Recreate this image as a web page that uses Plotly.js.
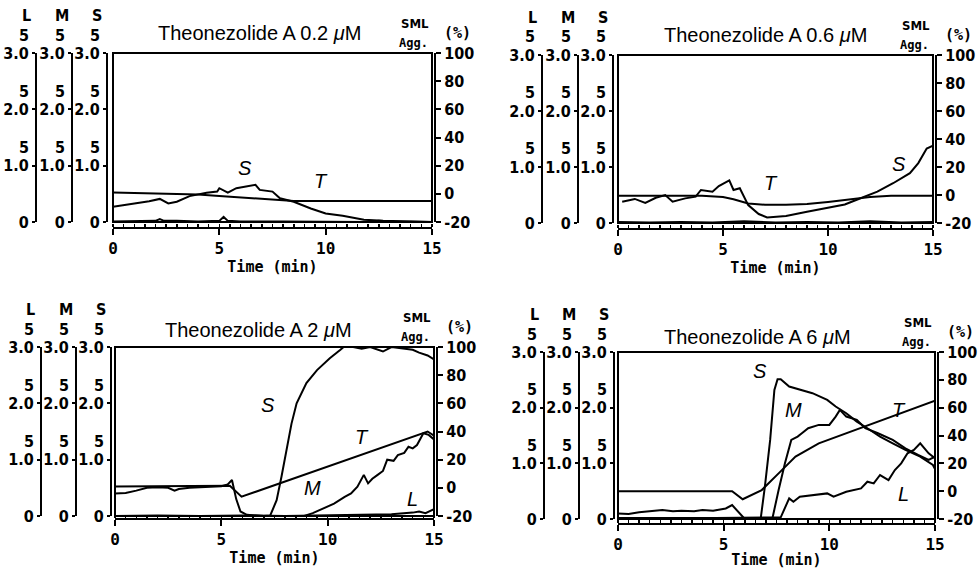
<!DOCTYPE html>
<html>
<head>
<meta charset="utf-8">
<script src="https://cdn.plot.ly/plotly-3.0.1.min.js"></script>
<style>html,body{margin:0;padding:0;background:#fff}#chart{width:980px;height:569px}</style>
</head>
<body>
<div id="chart"></div>
<script>
// ---------------- DATA ----------------
const panelTitles = ['Theonezolide A 0.2 <i>μ</i>M', 'Theonezolide A 0.6 <i>μ</i>M', 'Theonezolide A 2 <i>μ</i>M', 'Theonezolide A 6 <i>μ</i>M'];
const countTickVals = [0, 1, 2, 3];
const countTickText = ['0', '1.0', '2.0', '3.0'];
const aggTickVals = [-20, 0, 20, 40, 60, 80, 100];
const aggTickText = ['-20', '0', '20', '40', '60', '80', '100'];
const timeTickVals = [0, 5, 10, 15];

// Panel 1 : 0.2 uM
const p1_S_time = [0, 0.5, 1, 1.7, 2.2, 2.6, 3, 3.6, 4.4, 4.9, 5.0, 5.4, 5.8, 6.3, 6.7, 6.9, 7.5, 7.85, 8.5, 9.3, 10, 10.8, 11.8, 12.7, 13.5, 15];
const p1_S = [0.27, 0.30, 0.32, 0.37, 0.41, 0.33, 0.36, 0.46, 0.52, 0.54, 0.60, 0.52, 0.60, 0.63, 0.66, 0.57, 0.54, 0.42, 0.36, 0.24, 0.15, 0.11, 0.04, 0.02, 0.01, 0.0];
const p1_M_time = [0, 1, 2, 2.2, 2.4, 3, 4, 5, 5.2, 5.4, 6, 8, 10, 12, 12.5, 13, 15];
const p1_M = [0.01, 0.02, 0.02, 0.05, 0.02, 0.02, 0.01, 0.02, 0.09, 0.02, 0.01, 0.01, 0.0, 0.0, 0.02, 0.01, 0.0];
const p1_L_time = [0, 5, 10, 15];
const p1_L = [0, 0, 0, 0];
const p1_T_time = [0, 2, 4, 5, 6, 7, 7.8, 8.5, 15];
const p1_T = [1, 0.5, -0.5, -1.5, -2.5, -3.5, -4.8, -5, -5];

// Panel 2 : 0.6 uM
const p2_S_time = [0.2, 0.8, 1.3, 1.8, 2.25, 2.6, 3.2, 3.7, 3.95, 4.5, 4.8, 5.3, 5.5, 5.8, 6.2, 6.7, 7.1, 8.0, 9.0, 9.9, 10.8, 11.4, 12.35, 13.1, 13.9, 14.3, 14.7, 15];
const p2_S = [0.38, 0.43, 0.36, 0.45, 0.50, 0.38, 0.44, 0.47, 0.59, 0.56, 0.66, 0.76, 0.59, 0.62, 0.32, 0.16, 0.10, 0.125, 0.20, 0.26, 0.33, 0.42, 0.56, 0.71, 0.89, 1.07, 1.33, 1.38];
const p2_M_time = [0, 1.5, 3, 4.5, 6, 7.5, 9, 10.5, 12, 13.5, 15];
const p2_M = [0.02, 0.01, 0.02, 0.01, 0.03, 0.01, 0.02, 0.01, 0.03, 0.01, 0.02];
const p2_L_time = [0, 5, 10, 15];
const p2_L = [0, 0, 0, 0];
const p2_T_time = [0, 4, 5, 5.5, 6.2, 7, 8, 9, 10, 11, 12, 13, 15];
const p2_T = [-0.5, -0.5, -1.5, -3, -6, -7, -7, -6.5, -5, -3, -1.5, -0.5, -0.5];

// Panel 3 : 2 uM
const p3_S_time = [0, 0.5, 1, 1.5, 2, 2.5, 2.8, 3, 3.5, 4, 4.5, 5, 5.3, 5.5, 5.7, 5.9, 6.2, 7.0, 7.3, 7.6, 7.83, 8.07, 8.3, 8.54, 9.0, 9.5, 10.1, 10.6, 10.75, 11.2, 11.6, 12, 12.6, 13, 13.5, 14, 14.3, 14.7, 15];
const p3_S = [0.40, 0.41, 0.45, 0.50, 0.51, 0.50, 0.45, 0.48, 0.50, 0.51, 0.52, 0.53, 0.56, 0.64, 0.30, 0.08, 0.02, 0.0, 0.01, 0.28, 0.70, 1.17, 1.64, 2.0, 2.36, 2.59, 2.80, 2.95, 3.0, 3.0, 2.97, 3.0, 2.92, 3.0, 2.98, 2.95, 2.9, 2.85, 2.78];
const p3_M_time = [0, 8.9, 9.3, 9.8, 10.3, 10.8, 11.1, 11.4, 11.7, 11.9, 12.1, 12.35, 12.6, 12.8, 13.1, 13.3, 13.6, 13.8, 14.0, 14.2, 14.5, 14.75, 15];
const p3_M = [0, 0.0, 0.05, 0.14, 0.22, 0.34, 0.40, 0.52, 0.73, 0.58, 0.66, 0.73, 0.80, 1.0, 0.98, 1.08, 1.12, 1.23, 1.20, 1.26, 1.47, 1.44, 1.36];
const p3_L_time = [0, 2, 4, 6, 8, 10, 12, 13, 14, 14.3, 14.6, 15];
const p3_L = [0, 0.01, 0, 0.01, 0, 0.01, 0.02, 0.03, 0.06, 0.08, 0.05, 0.12];
const p3_T_time = [0, 5.4, 5.95, 14.7, 15];
const p3_T = [1, 1.5, -6.3, 40, 37];

// Panel 4 : 6 uM
const p4_S_time = [0, 0.5, 1, 1.5, 2.1, 2.6, 3, 3.6, 4, 4.5, 5.1, 5.4, 5.8, 6.0, 6.75, 6.95, 7.2, 7.4, 7.55, 7.7, 8.1, 8.6, 9.2, 9.9, 10.3, 10.8, 11.3, 11.8, 12.4, 13.0, 13.6, 14.3, 14.9, 15];
const p4_S = [0.10, 0.09, 0.12, 0.14, 0.16, 0.14, 0.15, 0.14, 0.16, 0.15, 0.19, 0.25, 0.07, 0.0, 0.0, 0.58, 1.42, 2.32, 2.51, 2.51, 2.38, 2.32, 2.26, 2.14, 2.02, 1.9, 1.75, 1.63, 1.48, 1.36, 1.24, 1.12, 0.97, 0.9];
const p4_M_time = [0, 5, 6, 7.3, 7.6, 7.9, 8.2, 8.5, 8.7, 9.0, 9.5, 10.0, 10.3, 10.5, 10.8, 11.3, 11.7, 12.3, 13.0, 13.6, 14.2, 14.7, 15];
const p4_M = [0.02, 0.02, 0, 0, 0.52, 1.0, 1.42, 1.48, 1.54, 1.63, 1.69, 1.69, 1.84, 1.96, 1.84, 1.78, 1.63, 1.54, 1.42, 1.27, 1.15, 1.06, 1.12];
const p4_L_time = [0, 7.7, 8.1, 8.3, 8.6, 9.2, 9.9, 10.2, 10.8, 11.5, 11.8, 12.1, 12.4, 12.8, 13.1, 13.4, 13.7, 14.0, 14.3, 14.7, 15];
const p4_L = [0, 0.03, 0.37, 0.31, 0.40, 0.43, 0.46, 0.40, 0.49, 0.55, 0.67, 0.64, 0.79, 0.70, 0.88, 1.0, 1.18, 1.24, 1.36, 1.18, 1.09];
const p4_T_time = [0, 5.4, 5.9, 6.8, 7.6, 8.4, 9.5, 10.8, 12.3, 13.6, 15];
const p4_T = [0, 0, -5.8, 0.8, 12.8, 24.8, 34.4, 41.6, 49.9, 57.1, 65];

const panelData = [
  {S: [p1_S_time, p1_S], M: [p1_M_time, p1_M], L: [p1_L_time, p1_L], T: [p1_T_time, p1_T]},
  {S: [p2_S_time, p2_S], M: [p2_M_time, p2_M], L: [p2_L_time, p2_L], T: [p2_T_time, p2_T]},
  {S: [p3_S_time, p3_S], M: [p3_M_time, p3_M], L: [p3_L_time, p3_L], T: [p3_T_time, p3_T]},
  {S: [p4_S_time, p4_S], M: [p4_M_time, p4_M], L: [p4_L_time, p4_L], T: [p4_T_time, p4_T]}
];

// ---------------- LAYOUT (pixel geometry) ----------------
const W = 980, H = 569;
const geo = [
  {xd: [113, 432], yd: [53, 222], xAxisY: 228, left: {L: 36, M: 72, S: 107}, right: 435, tx: 259, ty: 33},
  {xd: [618, 933], yd: [55, 223], xAxisY: 229, left: {L: 542, M: 578, S: 613}, right: 936, tx: 765, ty: 35},
  {xd: [115, 434], yd: [347, 516], xAxisY: 519, left: {L: 41, M: 76, S: 111}, right: 437, tx: 258, ty: 330},
  {xd: [618, 935], yd: [352, 519], xAxisY: 524, left: {L: 544, M: 579, S: 614}, right: 938, tx: 757, ty: 337}
];
const px = v => v / W;
const py = v => 1 - v / H;

const condBold = {family: 'DejaVu Sans Condensed', size: 16, color: '#000', weight: 'bold'};
const monoBold = {family: 'DejaVu Sans Mono', size: 15, color: '#000', weight: 'bold'};
const layout = {
  width: W, height: H,
  margin: {l: 0, r: 0, t: 0, b: 0},
  paper_bgcolor: '#fff', plot_bgcolor: 'rgba(0,0,0,0)',
  showlegend: false,
  annotations: [], shapes: []
};
const traces = [];
const names = ['S', 'M', 'L'];

geo.forEach((g, i) => {
  const xn = i === 0 ? '' : String(i + 1);
  const yIdx = {S: 4 * i + 1, M: 4 * i + 2, L: 4 * i + 3, T: 4 * i + 4};
  const yn = k => (yIdx[k] === 1 ? '' : String(yIdx[k]));
  const ydom = [py(g.yd[1]), py(g.yd[0])];
  const xdom = [px(g.xd[0]), px(g.xd[1])];
  const mainY = 'y' + yn('S');

  layout['xaxis' + xn] = {
    domain: xdom, range: [0, 15], anchor: 'free', position: py(g.xAxisY),
    showline: true, linewidth: 2, linecolor: '#000', showgrid: false, zeroline: false,
    tickvals: timeTickVals, ticks: 'outside', ticklen: 6, tickwidth: 2, tickcolor: '#000',
    minor: {dtick: 0.5, ticks: 'inside', ticklen: 3, tickwidth: 1.5, tickcolor: '#000', showgrid: false},
    tickfont: {family: 'DejaVu Sans Mono', size: 16, color: '#000', weight: 'bold'},
    title: {text: 'Time (min)', standoff: 1, font: {family: 'DejaVu Sans Mono', size: 15, color: '#000', weight: 'bold'}},
    fixedrange: true
  };

  names.forEach(k => {
    const ax = {
      domain: ydom, range: [0, 3], anchor: 'free', position: px(g.left[k]), side: 'left',
      showline: true, linewidth: 2, linecolor: '#000', showgrid: false, zeroline: false,
      tickvals: countTickVals, ticktext: countTickText, ticks: 'outside', ticklen: 3, tickwidth: 2, tickcolor: '#000',
      tickfont: condBold, fixedrange: true
    };
    if (k !== 'S') ax.overlaying = mainY;
    layout['yaxis' + yn(k)] = ax;
    // "5" exponent marks above 1.0, 2.0, 3.0 and the series letter
    [1, 2, 3].forEach(v => {
      layout.annotations.push({text: '5', xref: 'paper', yref: 'y' + yn(k), x: px(g.left[k] - 12), y: v, yshift: 18,
        showarrow: false, xanchor: 'center', yanchor: 'middle', font: condBold});
    });
    layout.annotations.push({text: k, xref: 'paper', yref: 'paper', x: px(g.left[k] - 10), y: py(g.yd[0] - 38),
      showarrow: false, xanchor: 'center', yanchor: 'middle', font: condBold});
  });

  layout['yaxis' + yn('T')] = {
    domain: ydom, range: [-20, 100], anchor: 'free', position: px(g.right), side: 'right', overlaying: mainY,
    showline: true, linewidth: 2, linecolor: '#000', showgrid: false, zeroline: false,
    tickvals: aggTickVals, ticktext: aggTickText, ticks: 'outside', ticklen: 5, tickwidth: 2, tickcolor: '#000',
    tickfont: condBold, fixedrange: true
  };

  // plot frame
  layout.shapes.push({type: 'rect', xref: 'x' + xn + ' domain', yref: mainY + ' domain', x0: 0, x1: 1, y0: 0, y1: 1,
    line: {color: '#000', width: 2}, fillcolor: 'rgba(0,0,0,0)'});

  // titles & labels
  layout.annotations.push({text: panelTitles[i], xref: 'paper', yref: 'paper', x: px(g.tx), y: py(g.ty), showarrow: false,
    xanchor: 'center', yanchor: 'middle', font: {family: 'Liberation Sans', size: 20, color: '#000'}});
  layout.annotations.push({text: 'SML', xref: 'paper', yref: 'paper', x: px(g.right - 20), y: py(g.yd[0] - 30), showarrow: false,
    xanchor: 'center', yanchor: 'middle', font: {family: 'DejaVu Sans Condensed', size: 13, color: '#000', weight: 'bold'}});
  layout.annotations.push({text: 'Agg.', xref: 'paper', yref: 'paper', x: px(g.right - 22), y: py(g.yd[0] - 10), showarrow: false,
    xanchor: 'center', yanchor: 'middle', font: {family: 'DejaVu Sans Mono', size: 12, color: '#000', weight: 'bold'}});
  layout.annotations.push({text: '(%)', xref: 'paper', yref: 'paper', x: px(g.right + 22), y: py(g.yd[0] - 20), showarrow: false,
    xanchor: 'center', yanchor: 'middle', font: monoBold});

  // traces
  const d = panelData[i];
  ['S', 'M', 'L', 'T'].forEach(k => {
    traces.push({
      type: 'scatter', mode: 'lines', name: k, x: d[k][0], y: d[k][1],
      xaxis: 'x' + xn, yaxis: 'y' + yn(k),
      line: {color: '#000', width: 2}, hoverinfo: 'skip'
    });
  });
});

// curve letters (italic labels placed in data coordinates)
const curveLabels = [
  [0, 'S', 6.2, 0.95, 'S'], [0, 'T', 9.8, 0.72, 'S'],
  [1, 'T', 7.3, 0.72, 'S'], [1, 'S', 13.4, 1.05, 'S'],
  [2, 'S', 7.2, 1.97, 'S'], [2, 'T', 11.6, 1.4, 'S'], [2, 'M', 9.3, 0.5, 'S'], [2, 'L', 14.0, 0.3, 'S'],
  [3, 'S', 6.7, 2.65, 'S'], [3, 'M', 8.3, 1.95, 'S'], [3, 'T', 13.3, 1.95, 'S'], [3, 'L', 13.5, 0.45, 'S']
];
curveLabels.forEach(c => {
  const i = c[0];
  const xn = i === 0 ? '' : String(i + 1);
  const yi = 4 * i + 1;
  layout.annotations.push({text: '<i>' + c[1] + '</i>', xref: 'x' + xn, yref: 'y' + (yi === 1 ? '' : yi), x: c[2], y: c[3],
    showarrow: false, font: {family: 'Liberation Sans', size: 20, color: '#000'}});
});

Plotly.newPlot('chart', traces, layout, {staticPlot: true, displayModeBar: false});
</script>
</body>
</html>
